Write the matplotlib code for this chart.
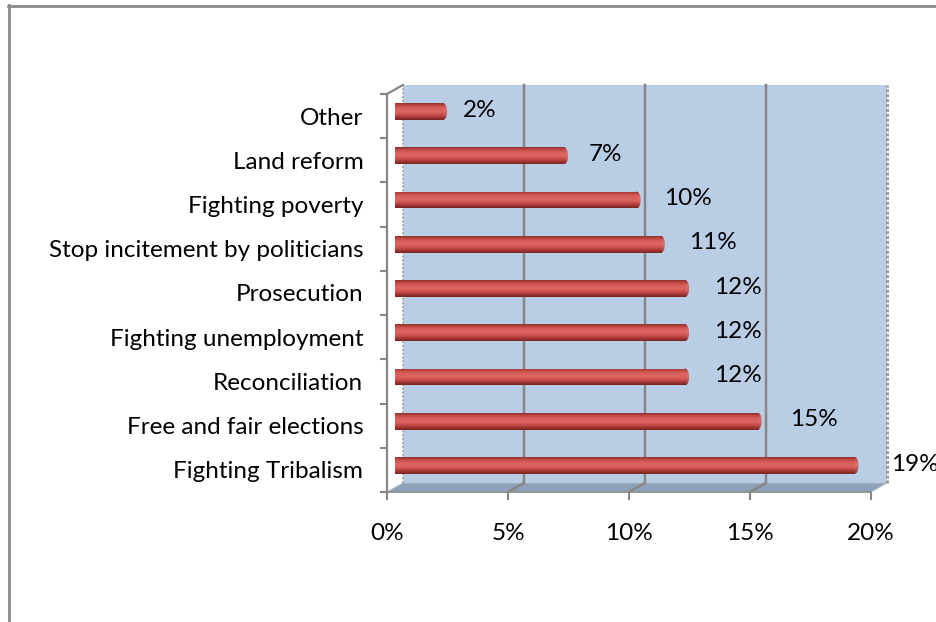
import numpy as np
import matplotlib
matplotlib.use('Agg')
import matplotlib.pyplot as plt
from matplotlib.patches import Rectangle, Polygon, Ellipse
from matplotlib.colors import LinearSegmentedColormap
from matplotlib.lines import Line2D

# data, bottom bar first
categories = ['Fighting Tribalism', 'Free and fair elections', 'Reconciliation',
              'Fighting unemployment', 'Prosecution', 'Stop incitement by politicians',
              'Fighting poverty', 'Land reform', 'Other']
shares = [19, 15, 12, 12, 12, 11, 10, 7, 2]
x_ticks = [0, 5, 10, 15, 20]
x_labels = ['0%', '5%', '10%', '15%', '20%']

plt.rcParams['font.family'] = ['Lato', 'DejaVu Sans']
FS = 17.5

# depth of the pseudo 3d box (data units) and bar thickness
DX, DY = 0.66, 0.204
BAR_H = 0.38
n = len(categories)
top = n - 0.5

fig = plt.figure(figsize=(9.37, 6.22), dpi=100)
ax = fig.add_axes([0.4130, 0.2090, 0.5166, 0.6399])
ax.patch.set_visible(False)
for s in ['top', 'right']:
    ax.spines[s].set_visible(False)
ax.spines['left'].set_color('#868686')
ax.spines['left'].set_linewidth(1.6)
ax.spines['bottom'].set_color('#8c8c8c')
ax.spines['bottom'].set_linewidth(1.2)

# back wall + floor
wall = Rectangle((DX, -0.5 + DY), 20, n, facecolor='#b9cde5', edgecolor='none',
                 zorder=0, clip_on=False)
ax.add_patch(wall)
floor = Polygon([(0, -0.5), (20, -0.5), (20 + DX, -0.5 + DY), (DX, -0.5 + DY)],
                facecolor='#8fa1b8', edgecolor='#b3bfcd', lw=0.8, zorder=1, clip_on=False)
ax.add_patch(floor)

# gridlines run down the wall and across the floor
for x in x_ticks[1:-1]:
    ax.plot([x + DX, x + DX, x], [top + DY, -0.5 + DY, -0.5], color='#878787',
            lw=1.8, zorder=1.5, clip_on=False)
ax.plot([20 + DX, 20 + DX], [-0.5 + DY, top + DY], color='#9d9d9d', lw=2.2,
        ls=(0, (1, 0.6)), zorder=1.5, clip_on=False)
ax.plot([DX, DX], [-0.5 + DY, top + DY], color='#a8a8a8', lw=1.4,
        ls=(0, (1, 1)), zorder=1.5, clip_on=False)
ax.plot([0, DX], [top, top + DY], color='#868686', lw=1.6, zorder=1.5, clip_on=False)

# cylinder-ish bars
cyl = LinearSegmentedColormap.from_list(
    'cyl', ['#8e2e2c', '#c84d49', '#d9605c', '#de6763', '#cc514d', '#a63936', '#762220'])
g = np.linspace(0, 1, 64).reshape(-1, 1)
ys = np.arange(n) + DY / 2
bars = ax.barh(ys, shares, height=BAR_H, left=DX / 2, color='none', zorder=3)
for bar, y in zip(bars, ys):
    x0 = bar.get_x()
    x1 = x0 + bar.get_width()
    im = ax.imshow(g, cmap=cyl, aspect='auto', origin='upper', interpolation='bicubic',
                   extent=[x0, x1, y - BAR_H / 2, y + BAR_H / 2], zorder=3)
    im.set_clip_path(bar)
    cap = Ellipse((x1, y), 0.3, BAR_H, facecolor='none', edgecolor='none', zorder=3.5)
    ax.add_patch(cap)
    im2 = ax.imshow(g, cmap=cyl, aspect='auto', origin='upper', interpolation='bicubic',
                    extent=[x1 - 0.15, x1 + 0.15, y - BAR_H / 2, y + BAR_H / 2],
                    zorder=3.5, alpha=0.92)
    im2.set_clip_path(cap)

for v, y in zip(shares, ys):
    ax.text(DX / 2 + v + 0.72 + 0.04 * v, y + 0.03, f'{v}%', ha='left', va='center',
            fontsize=FS, clip_on=False, zorder=4)

ax.set_xlim(0, 20)
ax.set_ylim(-0.5, top)
ax.set_xticks(x_ticks, x_labels)
ax.set_yticks(range(n), categories)
ax.set_yticks(np.arange(-0.5, n), minor=True)
ax.tick_params(axis='x', length=6, width=1.5, color='#868686', pad=16, labelsize=FS)
ax.tick_params(axis='y', which='major', length=0, pad=17, labelsize=FS)
ax.tick_params(axis='y', which='minor', length=5, width=1.5, color='#868686')

# outer chart frame (left and top edges)
fig.add_artist(Line2D([9.5 / 937, 9.5 / 937], [0, 1 - 5 / 622], color='#8a8a8a',
                      lw=2.0, transform=fig.transFigure))
fig.add_artist(Line2D([8.5 / 937, 1], [1 - 5.5 / 622, 1 - 5.5 / 622], color='#8a8a8a',
                      lw=2.0, transform=fig.transFigure))

fig.savefig('out.png', dpi=100)
